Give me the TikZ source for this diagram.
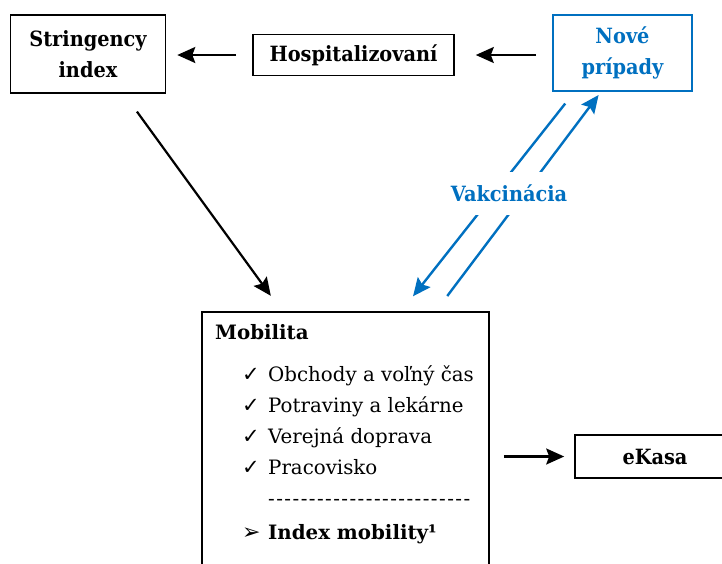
\documentclass[tikz,border=0pt]{standalone}
\usepackage{fontspec}
\setmainfont{DejaVu Serif}
\newfontfamily\znakfont{DejaVu Sans}
\newfontfamily\uzkyfont[FakeStretch=0.92]{DejaVu Serif}
\usetikzlibrary{positioning,arrows.meta}
\definecolor{modra}{RGB}{0,112,192}
\tikzset{
  box/.style={draw, line width=1.6pt, align=center, inner sep=0pt,
    font=\uzkyfont\bfseries\fontsize{21}{31}\selectfont},
  modrybox/.style={box, draw=modra, text=modra},
  polozka/.style={anchor=base west, inner sep=0pt, font=\fontsize{19.8}{31}\selectfont},
  sipka/.style={-{Stealth[length=18pt,width=16pt,inset=3pt]}, line width=2.2pt},
  modrasipka/.style={sipka, draw=modra, line width=2.4pt},
}

\begin{document}
\begin{tikzpicture}[x=1pt,y=-1pt]
  \useasboundingbox (0,0) rectangle (722,563);
  % horny rad
  \node[box, minimum width=155pt, minimum height=78pt] (stringency) at (88,54) {Stringency\\index};
  \node[box, minimum width=201pt, minimum height=41pt] (hosp) at (353.5,55) {Hospitalizovaní};
  \node[modrybox, minimum width=139pt, minimum height=76pt] (nove) at (622.5,53) {Nové\\prípady};
  % mobilita a ekasa
  \node[draw, line width=1.6pt, minimum width=287pt, minimum height=300pt, inner sep=0pt] (mobilita) at (345.5,462) {};
  \node[box, minimum width=160pt, minimum height=43pt] (ekasa) at (655,456.5) {eKasa};
  \node[polozka, font=\bfseries\fontsize{19.8}{31}\selectfont] (nadpis) at (215,339) {Mobilita};
  \foreach \txt [count=\i] in {Obchody a voľný čas, Potraviny a lekárne, Verejná doprava, Pracovisko}
    \node[polozka] (p\i) at (242,350+31*\i) {\makebox[26pt][l]{\znakfont\fontsize{21}{31}\selectfont ✓}\txt};
  \node[polozka] (ciara) at (268,505) {\hbox to 202pt{\foreach \k in {1,...,24}{-\hfill}-}};
  \node[polozka, font=\bfseries\fontsize{19.8}{31}\selectfont] (index) at (242,539) {\makebox[26pt][l]{\znakfont\mdseries\fontsize{22}{31}\selectfont ➢}Index mobility¹};
  % sipky
  \draw[sipka, shorten <=16pt, shorten >=11pt] (hosp.west) -- (hosp.west -| stringency.east);
  \draw[sipka, shorten <=16pt, shorten >=21pt] (nove.west |- hosp.east) -- (hosp.east);
  \draw[sipka, shorten <=22pt, shorten >=19pt] ([xshift=36pt]stringency.south) -- ([xshift=-63.5pt]mobilita.north);
  \draw[sipka, shorten <=14pt, shorten >=10pt] (mobilita.east |- ekasa.west) -- (ekasa.west);
  \draw[modrasipka, shorten <=15pt, shorten >=19pt] ([xshift=-48pt]nove.south) -- ([xshift=55.7pt]mobilita.north);
  \draw[modrasipka, shorten <=19pt, shorten >=4pt] ([xshift=90.3pt]mobilita.north) -- ([xshift=-21.5pt]nove.south);
  \node[fill=white, text=modra, inner xsep=2pt, minimum height=43pt,
    font=\uzkyfont\bfseries\fontsize{21}{26}\selectfont] (vakc) at (509,193) {Vakcinácia};
\end{tikzpicture}
\end{document}
